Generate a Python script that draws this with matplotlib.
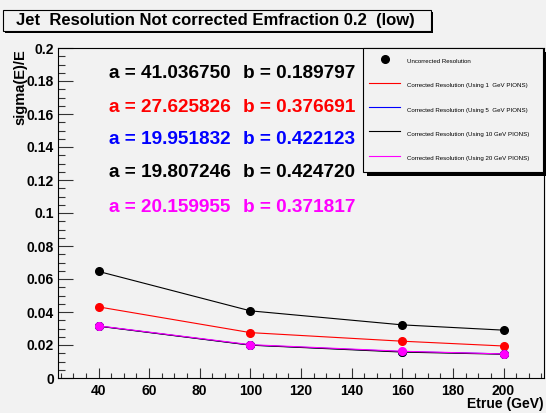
import matplotlib
matplotlib.use("Agg")
import matplotlib.pyplot as plt
from matplotlib.lines import Line2D
from matplotlib.patches import Rectangle

plt.rcParams["font.family"] = ["Liberation Sans", "DejaVu Sans"]
plt.rcParams["font.weight"] = "bold"

# jet energies and resolution values
etrue = [40, 100, 160, 200]
res_uncorr = [0.0646, 0.0407, 0.0322, 0.0290]
res_1gev = [0.0431, 0.0275, 0.0223, 0.0194]
res_5gev = [0.0315, 0.0200, 0.0160, 0.0146]
res_10gev = [0.0314, 0.0199, 0.0157, 0.0144]
res_20gev = [0.0316, 0.0202, 0.0162, 0.0146]

series = [res_uncorr, res_1gev, res_5gev, res_10gev, res_20gev]
colors = ["black", "red", "blue", "black", "magenta"]

fit_a = ["41.036750", "27.625826", "19.951832", "19.807246", "20.159955"]
fit_b = ["0.189797", "0.376691", "0.422123", "0.424720", "0.371817"]

legend_labels = [
    "Uncorrected Resolution",
    "Corrected Resolution (Using 1  GeV PIONS)",
    "Corrected Resolution (Using 5  GeV PIONS)",
    "Corrected Resolution (Using 10 GeV PIONS)",
    "Corrected Resolution (Using 20 GeV PIONS)",
]

W, H = 546, 413
bg = "#f2f2f2"


def fx(x):
    return x / W


def fy(y):
    return 1 - y / H


fig = plt.figure(figsize=(W / 100, H / 100), dpi=100, facecolor=bg)
ax = fig.add_axes([fx(58), fy(378), 486 / W, 330 / H], facecolor=bg)

for vals, c in zip(series, colors):
    ax.plot(etrue, vals, color=c, lw=0.8, marker="o", ms=5.5,
            markeredgecolor=c, markerfacecolor=c)

ax.set_xlim(24, 216)
ax.set_ylim(0, 0.2)
ax.set_xticks([40, 60, 80, 100, 120, 140, 160, 180, 200])
ax.set_xticks(range(25, 216, 5), minor=True)
ax.set_yticks([0, 0.02, 0.04, 0.06, 0.08, 0.1, 0.12, 0.14, 0.16, 0.18, 0.2])
ax.set_yticklabels(["0", "0.02", "0.04", "0.06", "0.08", "0.1", "0.12",
                    "0.14", "0.16", "0.18", "0.2"])
ax.set_yticks([i * 0.005 for i in range(41)], minor=True)
ax.tick_params(axis="both", which="both", direction="in", labelsize=10,
               color="#333333", width=0.8)
ax.tick_params(axis="y", which="major", length=10.5, pad=3)
ax.tick_params(axis="y", which="minor", length=5)
ax.tick_params(axis="x", which="major", length=7, pad=4)
ax.tick_params(axis="x", which="minor", length=3.5)
for sp in ax.spines.values():
    sp.set_linewidth(0.8)

fig.text(fx(544), fy(404), "Etrue (GeV)", ha="right", va="center",
         fontsize=10)
fig.text(fx(20), fy(49), "sigma(E)/E", ha="center", va="top",
         rotation=90, fontsize=10.5)

# fit parameters
rows = [73, 107, 140, 173, 207]
for a, b, c, y in zip(fit_a, fit_b, colors, rows):
    fig.text(fx(109), fy(y), "a = " + a, color=c, fontsize=13.7,
             ha="left", va="center")
    fig.text(fx(243), fy(y), "b = " + b, color=c, fontsize=13.7,
             ha="left", va="center")

# title box with shadow
fig.patches.append(Rectangle((fx(5), fy(33)), 428 / W, 21 / H,
                             transform=fig.transFigure, facecolor="black",
                             edgecolor="none", zorder=1))
fig.patches.append(Rectangle((fx(3), fy(31)), 428 / W, 21 / H,
                             transform=fig.transFigure, facecolor=bg,
                             edgecolor="black", lw=0.8, zorder=2))
fig.text(fx(215), fy(21), "Jet  Resolution Not corrected Emfraction 0.2  (low)",
         ha="center", va="center", fontsize=12)

# legend box shadow, drawn just under the legend
ax.add_patch(Rectangle((fx(367), fy(176)), 179 / W, 124 / H,
                       transform=fig.transFigure, facecolor="black",
                       edgecolor="none", zorder=4.9, clip_on=False))

handles = [Line2D([], [], ls="none", marker="o", ms=5.5, color="black")]
for c in colors[1:]:
    handles.append(Line2D([], [], color=c, lw=0.8))
leg = ax.legend(handles, legend_labels, loc="upper left",
                bbox_to_anchor=(fx(363), fy(48), 180 / W, 0),
                bbox_transform=fig.transFigure, mode="expand",
                borderaxespad=0, fancybox=False, edgecolor="black",
                facecolor=bg, framealpha=1,
                prop={"size": 4.4, "weight": "normal"},
                handlelength=5.1, handleheight=3.2, handletextpad=1.1,
                labelspacing=1.65, borderpad=1.0, numpoints=1)
leg.get_frame().set_linewidth(0.8)
leg.set_zorder(5)

fig.savefig("out.png", dpi=100, facecolor=bg)
